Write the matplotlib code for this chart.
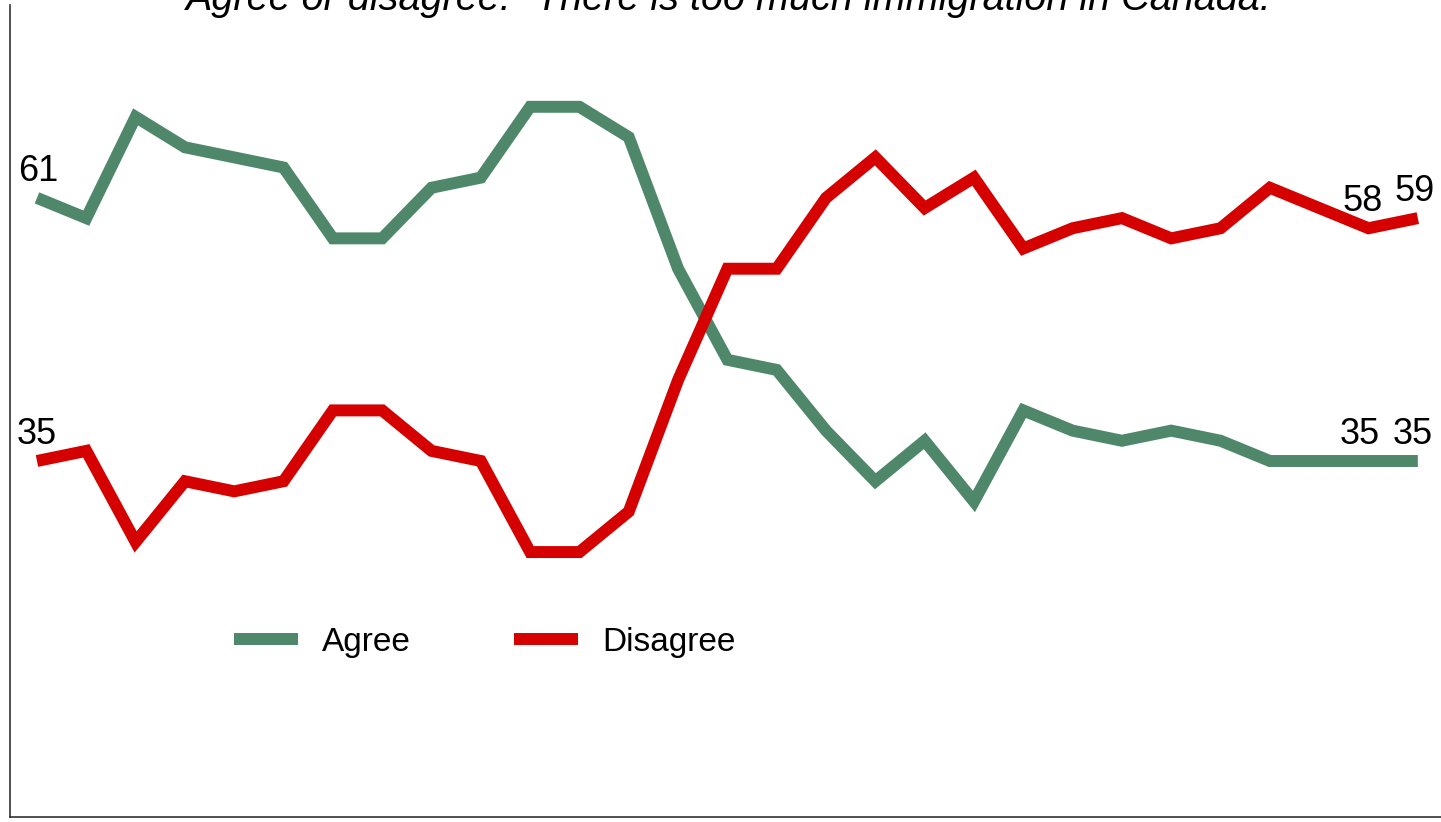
import matplotlib
matplotlib.use("Agg")
import matplotlib.pyplot as plt
from matplotlib import font_manager

# Survey: "There is too much immigration in Canada" — share agreeing / disagreeing
agree = [61, 59, 69, 66, 65, 64, 57, 57, 62, 63, 70, 70, 67, 54, 45, 44,
         38, 33, 37, 31, 40, 38, 37, 38, 37, 35, 35, 35, 35]
disagree = [35, 36, 27, 33, 32, 33, 40, 40, 36, 35, 26, 26, 30, 43, 54, 54,
            61, 65, 60, 63, 56, 58, 59, 57, 58, 62, 60, 58, 59]
series_names = ["Agree", "Disagree"]
title_text = 'Agree or disagree: "There is too much immigration in Canada."'

GREEN = "#4E8769"
RED = "#D50000"

names = {f.name for f in font_manager.fontManager.ttflist}
family = ["Liberation Sans Narrow"] if "Liberation Sans Narrow" in names else []
family += ["Liberation Sans", "DejaVu Sans"]
plt.rcParams["font.family"] = family

W, H = 1441, 822
fig = plt.figure(figsize=(W / 100, H / 100), dpi=100)
ax = fig.add_axes([10 / W, 5 / H, (W - 10) / W, 812 / H])

x = list(range(len(agree)))
lw = 8.6
ax.plot(x, agree, color=GREEN, lw=lw, solid_joinstyle="miter",
        solid_capstyle="butt", label=series_names[0])
ax.plot(x, disagree, color=RED, lw=lw, solid_joinstyle="miter",
        solid_capstyle="butt", label=series_names[1])

ax.set_xlim(-0.547, 28.47)
ax.set_ylim(-0.18, 80.06)

# value labels at the start and end of each series
def label(i, v, dx=0):
    ax.annotate(f"{v}", (x[i], v), xytext=(dx, 12.5), textcoords="offset points",
                ha="center", va="baseline", fontsize=26, color="black")

label(0, agree[0], 1)
label(0, disagree[0], 0)
label(len(x) - 2, disagree[-2], -4)
label(len(x) - 1, disagree[-1], -2)
label(len(x) - 2, agree[-2], -6)
label(len(x) - 1, agree[-1], -4)

ax.set_xticks([])
ax.set_yticks([])
for s in ("top", "right"):
    ax.spines[s].set_visible(False)
for s in ("left", "bottom"):
    ax.spines[s].set_color("#333333")
    ax.spines[s].set_linewidth(1.2)

leg = ax.legend(loc="center left", bbox_to_anchor=((234 - 10) / (W - 10), (817 - 642) / 812),
                ncol=2, frameon=False, fontsize=24, handlelength=1.92,
                handletextpad=0.72, columnspacing=3.1, borderpad=0, borderaxespad=0)
for h in leg.get_lines():
    h.set_linewidth(lw)

fig.text(736 / W, 1 - 10 / H, title_text, ha="center", va="baseline",
         fontsize=28.5, style="italic", color="black")

fig.savefig("out.png", dpi=100)
